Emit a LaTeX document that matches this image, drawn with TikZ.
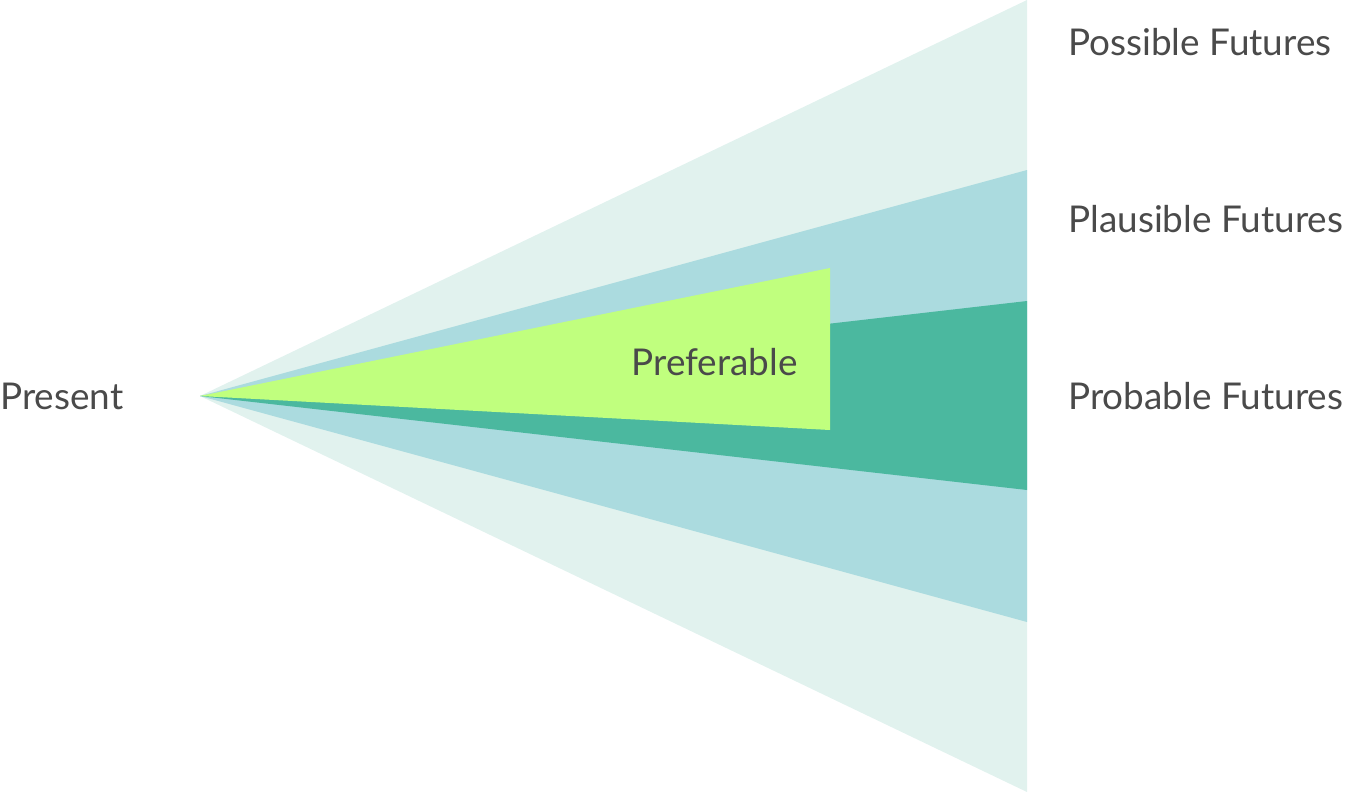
\documentclass[tikz,border=0pt]{standalone}
\usepackage{fontspec}
\setmainfont{Lato}
\definecolor{possibleC}{HTML}{E1F2EE}
\definecolor{plausibleC}{HTML}{ABDBDF}
\definecolor{probableC}{HTML}{4BB89F}
\definecolor{preferC}{HTML}{C0FF7E}
\definecolor{textC}{HTML}{4A4A4A}
\tikzset{
  cone/.style={draw=none},
  label/.style={anchor=west, inner sep=0pt, text=textC, font=\fontsize{21}{25}\selectfont}
}
\begin{document}
\begin{tikzpicture}[x=0.02cm,y=-0.02cm]
\useasboundingbox (0,0) rectangle (1370,792);
\coordinate (present) at (200,396);
% cones
\fill[cone, possibleC] (present) -- (1027,0) -- (1027,792) -- cycle;
\fill[cone, plausibleC] (present) -- (1027,170) -- (1027,622) -- cycle;
\fill[cone, probableC] (present) -- (1027,301) -- (1027,490) -- cycle;
\fill[cone, preferC] (present) -- (830,268) -- (830,430) -- cycle;
% labels
\node[label] (presentL) at (0,396) {Present};
\node[label, anchor=east] (preferL) at (798,362) {Preferable};
\node[label] (possibleL) at (1068,42) {Possible Futures};
\node[label] (plausibleL) at (1068,219) {Plausible Futures};
\node[label] (probableL) at (1068,396) {Probable Futures};
\end{tikzpicture}
\end{document}
